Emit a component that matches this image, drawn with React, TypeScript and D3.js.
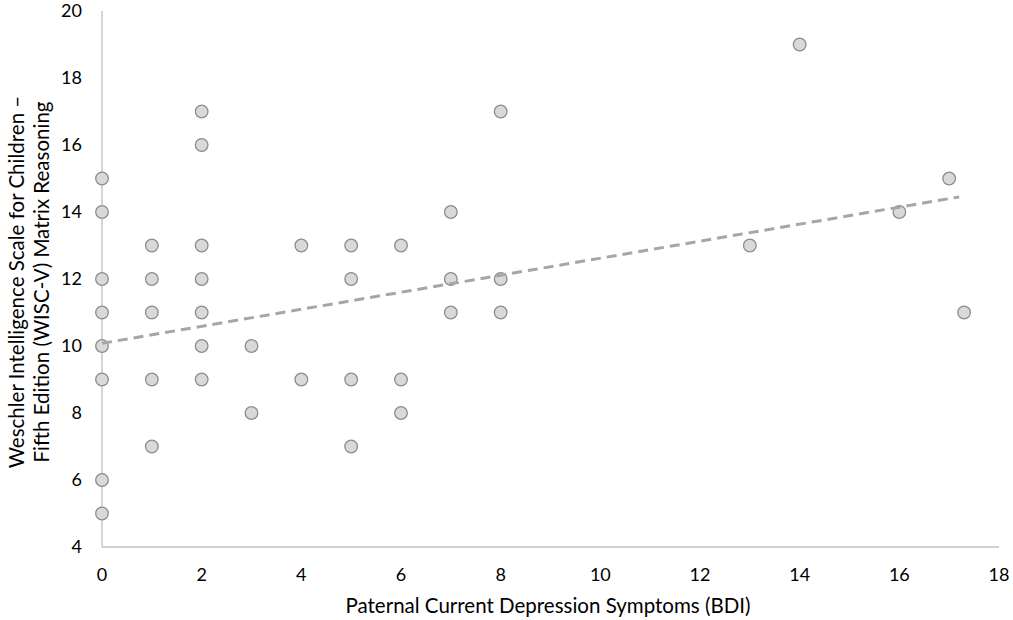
import * as d3 from 'd3';

// BDI score (x) and WISC-V matrix reasoning score (y) for each child
const bdi = [
  0, 0, 0, 0, 0, 0, 0, 0,
  1, 1, 1, 1, 1,
  2, 2, 2, 2, 2, 2, 2,
  3, 3,
  4, 4,
  5, 5, 5, 5,
  6, 6, 6,
  7, 7, 7,
  8, 8, 8,
  13, 14, 16, 17, 17.3,
];
const wisc = [
  15, 14, 12, 11, 10, 9, 6, 5,
  13, 12, 11, 9, 7,
  17, 16, 13, 12, 11, 10, 9,
  10, 8,
  13, 9,
  13, 12, 9, 7,
  13, 9, 8,
  14, 12, 11,
  17, 12, 11,
  13, 19, 14, 15, 11,
];

// linear trend line endpoints
const trendX = [0, 17.2];
const trendY = [10.08, 14.45];

const xTicks = [0, 2, 4, 6, 8, 10, 12, 14, 16, 18];
const yTicks = [4, 6, 8, 10, 12, 14, 16, 18, 20];

const width = 1013;
const height = 620;
const margin = { top: 11, right: 14, bottom: 73, left: 102 };
const font = 'Lato, "Open Sans", sans-serif';

export default function App() {
  const x = d3.scaleLinear().domain([0, 18]).range([margin.left, width - margin.right]);
  const y = d3.scaleLinear().domain([4, 20]).range([height - margin.bottom, margin.top]);

  const points = bdi.map((b, i) => ({ x: b, y: wisc[i] }));
  const trend = d3
    .line<number>()
    .x((d) => x(d))
    .y((_, i) => y(trendY[i]));

  return (
    <svg
      width={width}
      height={height}
      style={{ position: 'absolute', top: 0, left: 0, background: '#fff' }}
      fontFamily={font}
    >
      {/* axes */}
      <line x1={x(0)} x2={x(18)} y1={y(4)} y2={y(4)} stroke="#bfbfbf" strokeWidth={1.3} />
      <line x1={x(0)} x2={x(0)} y1={y(4)} y2={y(20)} stroke="#bfbfbf" strokeWidth={1.3} />

      {yTicks.map((t) => (
        <text key={t} x={x(0) - 20} y={y(t)} dy="0.35em" textAnchor="end" fontSize={18} fill="#000">
          {t}
        </text>
      ))}
      {xTicks.map((t) => (
        <text key={t} x={x(t)} y={y(4) + 28} dy="0.35em" textAnchor="middle" fontSize={18} fill="#000">
          {t}
        </text>
      ))}

      {/* points */}
      {points.map((p, i) => (
        <circle key={i} cx={x(p.x)} cy={y(p.y)} r={6.3} fill="#d9d9d9" stroke="#8c8c8c" strokeWidth={1.3} />
      ))}

      {/* trend */}
      <path
        d={trend(trendX) ?? ''}
        fill="none"
        stroke="#a6a6a6"
        strokeWidth={3}
        strokeDasharray="10 6"
      />

      {/* titles */}
      <text x={548} y={606} dy="0.35em" textAnchor="middle" fontSize={20.5} fill="#000">
        Paternal Current Depression Symptoms (BDI)
      </text>
      <g transform="translate(17, 282) rotate(-90)">
        <text textAnchor="middle" fontSize={20.5} fill="#000" dy="0.35em">
          Weschler Intelligence Scale for Children –
        </text>
        <text textAnchor="middle" fontSize={20.5} fill="#000" y={25} dy="0.35em">
          Fifth Edition (WISC-V) Matrix Reasoning
        </text>
      </g>
    </svg>
  );
}
